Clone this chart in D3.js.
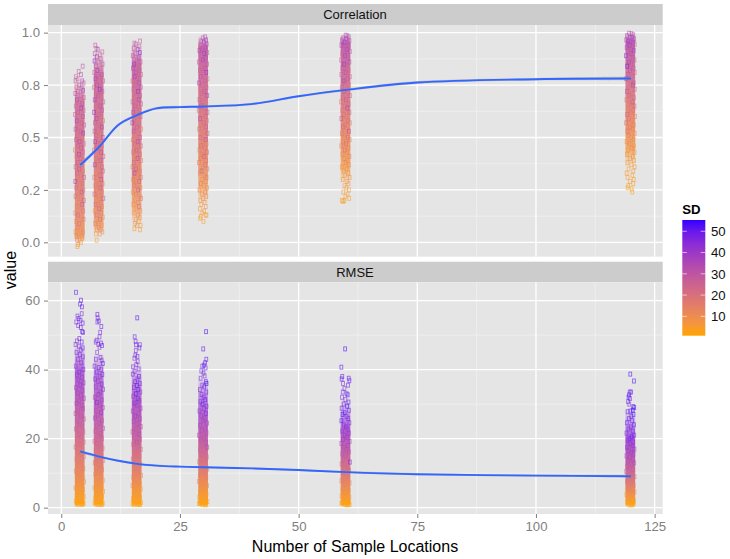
<!DOCTYPE html>
<html>
<head>
<meta charset="utf-8">
<script src="https://cdn.jsdelivr.net/npm/d3@7"></script>
<style>
body{margin:0;background:#fff;}
text{font-family:"Liberation Sans",Arial,sans-serif;}
</style>
</head>
<body>
<div id="chart"></div>
<script>
var sizes = [4,8,16,30,60,120];

// each point: [jitter off the sample size, value, SD]
var corr_4 = [[.5,.84,30],[-.33,.815,28],[.15,.8,33],[-.9,.79,26],[-1,.77,30],[-.6,.78,24],[.4,.77,36],[.7,.76,27],[-.2,.75,34],[-.85,.74,22],[.25,.735,29],[.6,.725,38],[-.5,.72,25],[-1.05,.71,31],[.05,.7,27],[.75,.69,24],[-.7,.68,35],[-.25,.67,21],[.45,.66,30],[-.95,.65,26],[.2,.64,40],[.7,.63,23],[-.45,.62,29],[-1.1,.61,25],[.55,.6,33],[-.1,.59,19],[-.75,.58,37],[.3,.57,24],[.8,.56,28],[-.35,.55,20],[-1,.54,31],[.1,.53,26],[.6,.52,42],[-.6,.51,22],[.4,.5,18],[-.9,.49,27],[-.15,.48,35],[.75,.47,21],[-.5,.46,25],[.2,.45,30],[-1.1,.44,17],[.55,.43,24],[-.3,.42,38],[-.8,.41,20],[.05,.4,26],[.7,.39,16],[-.55,.38,29],[.35,.37,19],[-1,.36,23],[-.2,.35,33],[.6,.34,15],[-.7,.33,25],[.15,.32,18],[.8,.31,27],[-.4,.3,16],[-1.05,.29,36],[.45,.28,21],[-.1,.27,14],[-.85,.26,24],[.65,.25,17],[.25,.24,31],[-.5,.23,13],[-1,.22,20],[.05,.21,16],[.75,.2,23],[-.3,.19,12],[.4,.18,28],[-.75,.17,15],[-.05,.16,11],[.6,.15,19],[-1.05,.14,14],[-.45,.13,24],[.2,.12,10],[.7,.11,16],[-.85,.1,12],[-.2,.09,20],[.45,.08,9],[-.6,.07,14],[.1,.06,8],[-1,.05,11],[.55,.05,16],[-.35,.04,7],[.25,.03,10],[-.8,.03,13],[.4,.02,6],[-.15,.01,9],[-.65,.01,12],[.15,.0,5],[-.45,-.01,7],[-.6,-.02,6]];
var corr_8 = [[-.84,.94,30],[-.6,.925,27],[-.3,.92,35],[.64,.908,26],[-.95,.9,32],[.1,.895,24],[-.5,.885,38],[.3,.875,29],[-1,.865,44],[-.15,.86,25],[.7,.85,33],[-.7,.84,28],[.25,.83,22],[-.4,.82,40],[-1.05,.81,26],[.55,.8,31],[-.05,.79,24],[-.8,.78,36],[.8,.77,27],[.3,.76,21],[-.45,.75,33],[-1.1,.74,25],[.1,.73,45],[.65,.72,28],[-.65,.71,23],[-.2,.7,30],[.45,.69,20],[-.95,.68,37],[.85,.67,26],[-.35,.66,22],[.2,.65,31],[-.75,.64,19],[.6,.63,28],[-1.1,.62,41],[-.1,.61,24],[.4,.6,21],[-.55,.59,34],[.8,.58,18],[-.9,.57,27],[0,.56,23],[.55,.55,36],[-.3,.54,20],[-1,.53,29],[.3,.52,17],[-.65,.51,25],[.75,.5,32],[-.15,.49,19],[-.85,.48,38],[.15,.47,24],[.6,.46,16],[-.45,.45,28],[-1.1,.44,21],[.4,.43,33],[-.05,.42,15],[.85,.41,26],[-.7,.4,19],[.25,.39,30],[-.35,.38,14],[-.95,.37,36],[.55,.36,22],[-.15,.35,17],[.75,.34,27],[-.6,.33,13],[.1,.32,24],[-1.05,.31,19],[.4,.3,31],[-.3,.29,12],[.7,.28,20],[-.8,.27,16],[.2,.26,26],[-.5,.25,11],[.55,.24,18],[-1,.23,22],[-.1,.22,13],[.85,.21,30],[-.4,.2,10],[.3,.19,16],[-.75,.18,21],[.6,.17,12],[0,.16,28],[-.95,.15,9],[.4,.14,15],[-.55,.13,19],[.75,.12,10],[.15,.11,24],[-.25,.1,8],[-.85,.09,13],[.5,.08,7],[-.1,.07,17],[-.5,.06,6],[.3,.06,11],[.65,.05,8],[-.7,.04,5],[.1,.04,9],[-.54,.01,4]];
var corr_16 = [[.6,.96,29],[-.6,.95,27],[-.3,.945,33],[.45,.935,26],[-.75,.925,31],[.1,.92,38],[.55,.905,44],[-.4,.9,25],[-.95,.89,30],[.3,.88,36],[-.1,.87,24],[.7,.86,28],[-.65,.85,41],[.2,.84,22],[-.9,.83,33],[.5,.82,26],[-.25,.81,30],[.8,.8,23],[-.55,.79,37],[.05,.78,27],[-1,.77,21],[.4,.76,32],[-.35,.75,25],[.75,.74,29],[-.8,.73,20],[.15,.72,43],[-.15,.71,24],[.6,.7,27],[-.65,.69,19],[.3,.68,34],[-1,.67,23],[.8,.66,26],[-.4,.65,30],[.05,.64,18],[.5,.63,25],[-.85,.62,35],[-.2,.61,21],[.7,.6,28],[.2,.59,17],[-.6,.58,24],[-1.05,.57,40],[.4,.56,20],[-.05,.55,27],[.8,.54,16],[-.75,.53,31],[.25,.52,22],[-.35,.51,18],[.6,.5,26],[-.95,.49,15],[.1,.48,36],[-.5,.47,20],[.75,.46,24],[.35,.45,14],[-.15,.44,28],[-.85,.43,18],[.55,.42,22],[-.4,.41,13],[.05,.4,33],[.8,.39,17],[-.7,.38,24],[.3,.37,12],[-1,.36,19],[-.25,.35,27],[.6,.34,14],[-.55,.33,37],[.15,.32,11],[.75,.31,21],[-.85,.3,16],[.4,.29,25],[-.1,.28,10],[-.6,.27,18],[.65,.26,13],[.2,.25,29],[-.95,.24,9],[-.3,.23,15],[.5,.22,11],[.8,.21,19],[-.5,.2,8],[.1,.19,13],[-.8,.18,9],[.35,.17,23],[-.15,.16,7],[.65,.15,10],[-.6,.14,6],[.2,.13,12],[.55,.12,7],[-.35,.11,9],[.3,.1,6],[-.45,.09,8],[.7,.08,5],[-.1,.08,7],[.6,.06,4],[-.6,.065,5]];
var corr_30 = [[.3,.98,33],[-.2,.975,30],[.5,.965,36],[-.5,.96,28],[.05,.955,38],[.65,.945,31],[-.7,.94,26],[.3,.93,35],[-.35,.925,29],[-.9,.915,33],[.75,.905,27],[.1,.9,40],[-.55,.89,24],[.45,.88,31],[-.15,.87,36],[-1,.86,26],[.7,.85,29],[-.4,.84,22],[.2,.83,33],[-.8,.82,27],[.55,.81,42],[-.05,.8,24],[-.6,.79,30],[.8,.78,21],[.3,.77,28],[-1,.76,34],[-.25,.75,23],[.6,.74,26],[-.7,.73,19],[.1,.72,31],[-.45,.71,24],[.75,.7,37],[.4,.69,20],[-.9,.68,27],[-.1,.67,22],[.55,.66,18],[-.6,.65,30],[.2,.64,25],[-1.05,.63,21],[.8,.62,28],[-.3,.61,17],[.35,.6,24],[-.75,.59,33],[.65,.58,19],[0,.57,23],[-.5,.56,16],[.5,.55,27],[-.95,.54,20],[.15,.53,18],[.8,.52,29],[-.35,.51,15],[-.7,.5,22],[.4,.49,36],[-.1,.48,17],[.6,.47,14],[-.55,.46,24],[.25,.45,19],[-.9,.44,13],[.7,.43,21],[-.25,.42,16],[.1,.41,26],[-.65,.4,12],[.5,.39,18],[-1,.38,14],[.3,.37,22],[-.15,.36,11],[.75,.35,16],[-.45,.34,30],[-.8,.33,10],[.2,.32,14],[.6,.31,18],[-.3,.3,9],[.4,.29,12],[-.6,.28,16],[0,.27,8],[.7,.26,11],[-.9,.25,9],[.3,.24,14],[-.4,.23,7],[.55,.22,10],[-.15,.21,8],[-.7,.2,6],[.2,.19,9],[-.5,.18,5],[.45,.17,7],[-.8,.16,5],[.1,.15,8],[-.3,.14,4],[.4,.13,6],[-.6,.125,4],[.6,.13,5],[-.75,.115,3],[-.05,.1,4]];
var corr_60 = [[-.1,.988,32],[.25,.985,29],[.55,.98,35],[-.6,.975,31],[.05,.97,38],[-.9,.965,28],[.7,.96,33],[-.3,.955,40],[.35,.95,27],[-1,.94,36],[.6,.935,30],[-.55,.925,26],[.15,.92,34],[.8,.91,29],[-.8,.9,24],[-.2,.89,37],[.45,.88,27],[-1.05,.87,22],[.7,.86,31],[-.4,.85,44],[.1,.84,25],[-.75,.83,28],[.55,.82,21],[-.1,.81,33],[-1,.8,26],[.8,.79,23],[.3,.78,30],[-.55,.77,40],[-.25,.76,24],[.65,.75,20],[-.9,.74,27],[.15,.73,22],[-.45,.72,32],[.45,.71,19],[.8,.7,26],[-.7,.69,23],[-.05,.68,29],[-1.05,.67,18],[.55,.66,24],[-.3,.65,21],[.25,.64,36],[-.8,.63,17],[.7,.62,25],[-.5,.61,20],[.05,.6,16],[-1,.59,28],[.4,.58,22],[.8,.57,15],[-.2,.56,19],[-.65,.55,24],[.2,.54,14],[.6,.53,33],[-.9,.52,18],[-.35,.51,13],[.35,.5,21],[.75,.49,16],[-.6,.48,12],[0,.47,24],[-1,.46,15],[.5,.45,11],[-.25,.44,19],[.15,.43,13],[-.75,.42,10],[.7,.41,16],[-.4,.4,12],[.3,.39,9],[-.1,.38,14],[.6,.37,10],[-.9,.36,8],[.1,.35,12],[-.5,.34,7],[.45,.33,9],[-.2,.32,6],[.75,.31,8],[-.7,.3,6],[.2,.29,5],[.5,.28,7],[-.35,.27,5],[.05,.26,4],[.6,.25,6],[-.6,.24,4],[.3,.23,5],[-.15,.22,3],[.65,.21,4],[-.9,.2,3],[-.6,.195,4],[-.35,.2,3]];
var corr_120 = [[-.4,.997,31],[.1,.995,34],[.5,.99,29],[-.8,.985,36],[.25,.98,38],[-.15,.975,33],[.7,.97,35],[-1,.965,30],[-.55,.96,40],[.4,.955,32],[.8,.945,28],[-.25,.94,37],[-.9,.93,34],[.15,.925,30],[.6,.915,36],[-.6,.91,27],[-.05,.9,33],[-1.05,.89,42],[.35,.88,29],[.75,.87,25],[-.4,.86,35],[.05,.85,28],[-.8,.84,48],[.55,.83,26],[-.2,.82,31],[.8,.81,23],[-.65,.8,29],[.25,.79,25],[-1,.78,33],[-.1,.77,22],[.6,.76,27],[.4,.75,36],[-.5,.74,21],[.8,.73,25],[-.85,.72,30],[.1,.71,19],[-.3,.7,26],[.65,.69,22],[-.95,.68,18],[.3,.67,28],[-.15,.66,20],[.75,.65,24],[-.6,.64,17],[.5,.63,21],[0,.62,16],[-.8,.61,25],[.85,.6,15],[-.4,.59,19],[.2,.58,14],[-1,.57,22],[.6,.56,13],[-.2,.55,17],[.35,.54,12],[-.7,.53,20],[.8,.52,11],[-.5,.51,15],[.05,.5,10],[.55,.49,13],[-.9,.48,9],[-.3,.47,12],[.7,.46,8],[.2,.45,11],[-.6,.44,7],[.75,.43,10],[-.85,.42,8],[.4,.41,6],[-.15,.4,7],[.65,.39,5],[-.75,.38,6],[.1,.37,5],[.8,.36,6],[-.5,.35,4],[.5,.34,5],[-.9,.33,4],[.3,.32,3],[-.7,.31,4],[.6,.3,3],[-.2,.29,3],[.5,.28,3],[-.55,.27,3],[-.7,.26,2],[.15,.255,3],[.3,.24,2]];

var rmse_4 = [[-.9,62.4,51],[.15,60.1,53],[-.05,59,50],[.35,58.2,52],[.3,56.2,48],[-.6,55.5,49],[-.35,54.8,50],[.05,54.3,52],[-.85,53.8,47],[.5,53.5,50],[-.45,52.8,48],[.1,52.2,51],[.4,51,53],[.6,50.8,49],[-.2,49,50],[-.7,48.3,47],[.3,48,52],[-1,47.3,45],[-.3,46.8,46],[.5,46.3,50],[.1,45.7,47],[-.8,45,44],[-.1,44.3,49],[.55,43.7,46],[-.5,43,43],[.2,42,45],[-.95,41,41],[.65,40,44],[-.2,39.3,46],[-.7,38.5,41],[.35,37.8,42],[-.4,37,40],[.7,36.2,39],[0,35.5,42],[-.9,34.8,36],[.45,34,38],[-.55,33.2,37],[.15,32.5,35],[.75,31.7,37],[-.25,31,33],[-.8,30.2,34],[.3,29.5,33],[.6,28.7,31],[-.45,28,30],[-1,27.3,29],[.1,26.5,31],[.75,25.7,28],[-.65,25,27],[-.1,24.2,29],[.4,23.5,26],[-.9,22.8,25],[.65,22,24],[-.3,21.3,26],[.2,20.5,23],[-.7,19.8,22],[.7,19,21],[-.05,18.3,23],[-1,17.6,20],[.45,16.9,19],[-.45,16.2,18],[.15,15.5,20],[.75,14.8,17],[-.8,14.1,16],[-.2,13.4,17],[.35,12.7,15],[-.55,12,14],[.65,11.3,14],[-.95,10.6,13],[.05,10,12],[-.35,9.3,11],[.5,8.7,11],[-.7,8.1,10],[.8,7.5,9],[.15,6.9,8],[-.5,6.3,8],[-1,5.7,7],[.55,5.2,7],[-.15,4.7,6],[.3,4.2,5],[-.75,3.7,5],[.75,3.2,4],[-.3,2.8,4],[.1,2.4,3],[-.95,2,3],[.5,1.7,3],[-.55,1.4,2],[.25,1.1,2],[-.1,1.6,2],[-.8,1.1,2],[.7,1.2,2],[.4,.9,1.5],[-.35,.9,1.5]];
var rmse_8 = [[-.4,56,50],[-.35,55,48],[-.1,54.1,52],[-.4,53.8,46],[.43,52.5,50],[.2,50.8,49],[.05,49.5,47],[-.55,48.5,50],[-.75,48,45],[.35,47.7,52],[-.2,47.3,48],[.6,47,50],[.05,46.5,46],[-.45,45,44],[.25,43.5,49],[-.7,43,46],[.5,42.7,42],[.75,41.8,52],[-1,41,47],[-.1,40.6,44],[.4,40,42],[-.55,39.3,49],[.65,38.6,46],[.1,38,41],[-.85,37.3,44],[-.3,36.6,40],[.5,35.8,47],[-.7,35,38],[.8,34.3,43],[.2,33.5,37],[-.15,32.8,40],[-.95,32,36],[.55,31.2,38],[-.5,30.5,44],[.1,29.7,34],[.75,29,36],[-.7,28.2,33],[.35,27.5,40],[-.25,26.7,31],[-.9,26,35],[.6,25.2,30],[.05,24.5,32],[-.5,23.7,28],[.8,23,30],[-.8,22.2,27],[.3,21.5,29],[-.2,20.7,25],[.55,20,26],[-1,19.3,24],[-.45,18.6,23],[.15,17.9,24],[.7,17.2,21],[-.75,16.5,20],[-.05,15.8,21],[.45,15.1,18],[-.35,14.4,18],[.85,13.7,17],[-.95,13,16],[.25,12.3,15],[-.6,11.6,14],[.6,11,14],[-.1,10.3,12],[-.85,9.7,12],[.4,9.1,11],[-.35,8.5,10],[.75,7.9,9],[.1,7.3,9],[-.7,6.7,8],[.5,6.2,7],[-1,5.7,7],[-.2,5.2,6],[.8,4.7,6],[.25,4.2,5],[-.5,3.7,5],[.6,3.2,4],[-.85,2.8,4],[.05,2.4,3],[.4,2,3],[-.4,1.7,3],[-1,1.4,2],[.75,1.3,2],[-.65,1,2],[.2,1,2],[.55,.9,1.5],[-.15,.9,1.5]];
var rmse_16 = [[0,55,53],[-.55,49.5,50],[-.35,48.2,48],[-.25,47.2,52],[.55,47.2,49],[.45,46.3,51],[-.3,45.5,47],[-.4,44.2,48],[-.6,43.3,46],[.05,43.8,50],[.1,42.3,49],[-.2,41.5,47],[-.9,40.8,45],[.3,40.2,46],[-.55,39.5,43],[-.95,38.7,48],[.35,38,50],[.05,37.3,44],[-.45,36.5,47],[.55,36,45],[-.1,35.4,52],[-.7,34.8,42],[.2,34.2,50],[.65,33.5,41],[-.3,33,53],[-.85,32.3,40],[.1,31.6,48],[.45,31,39],[-.55,30.3,44],[-.15,29.6,37],[.7,28.8,38],[-.95,28,36],[.25,27.3,35],[-.4,26.5,40],[.55,25.8,34],[-.75,25,33],[0,24.3,32],[.75,23.5,31],[-.3,22.8,30],[-1,22,29],[.35,21.3,35],[-.6,20.5,27],[.6,19.8,26],[-.05,19,33],[-.85,18.3,24],[.2,17.6,23],[.75,16.9,22],[-.45,16.2,21],[-.1,15.5,20],[.45,14.8,19],[-.95,14.1,18],[-.25,13.4,17],[.65,12.7,16],[.1,12,15],[-.65,11.3,14],[.4,10.6,13],[-.4,10,12],[.8,9.4,12],[-.85,8.8,11],[.2,8.2,10],[-.15,7.6,9],[.55,7,8],[-1,6.4,8],[-.5,5.9,7],[.75,5.4,7],[.05,4.9,6],[-.7,4.4,5],[.35,3.9,5],[-.25,3.4,4],[.6,3,4],[-.9,2.6,3],[.15,2.2,3],[-.45,1.8,3],[.8,1.5,2],[-1,1.2,2],[-.1,1.3,2],[.4,1,2],[-.7,.9,1.5],[.6,.9,1.5],[.1,.9,1.5]];
var rmse_30 = [[.5,51,54],[-.1,46,52],[.55,43,51],[.3,42,53],[.05,41.3,50],[-.3,41,48],[.4,40.5,52],[-.5,39.6,49],[-.05,39,51],[.2,38.2,47],[-.65,37.5,46],[.45,36.5,52],[.6,36,54],[-.3,35.5,47],[.1,35,50],[-.8,34.2,44],[.55,33.5,48],[-.45,32.8,45],[0,32,46],[.3,31.3,50],[-.7,30.7,43],[-.25,30,52],[.6,29.4,47],[.05,28.7,41],[-.9,28,40],[.45,27.3,46],[-.5,26.6,39],[.2,25.9,38],[-.15,25.2,37],[.7,24.5,36],[-.75,23.8,35],[.3,23.1,34],[-.35,22.4,33],[.6,21.7,32],[-1,21,31],[.05,20.3,30],[-.55,19.6,29],[.5,18.9,32],[-.2,18.2,27],[.75,17.5,36],[-.8,16.8,25],[.2,16.1,24],[-.4,15.4,23],[.65,14.7,22],[0,14,21],[-.95,13.3,19],[.4,12.6,18],[-.6,11.9,17],[.75,11.2,16],[-.1,10.6,15],[.25,10,14],[-.8,9.4,13],[.55,8.8,12],[-.3,8.2,11],[-1,7.6,10],[.1,7,9],[.7,6.4,8],[-.5,5.9,8],[.35,5.4,7],[-.15,4.9,6],[-.75,4.4,6],[.6,3.9,5],[.05,3.4,4],[-.95,3,4],[.4,2.6,3],[-.45,2.2,3],[.8,1.8,3],[-.2,1.5,2],[.2,1.2,2],[-.7,1.2,2],[.55,1,2],[-1,1.2,2],[-.3,.9,1.5],[.35,.8,1.5]];
var rmse_60 = [[-.2,46,54],[-1,40.7,52],[-.8,38,50],[-.95,37.3,53],[.55,37.5,52],[.7,36.8,50],[-.65,36,48],[.4,35.5,51],[-.35,34.5,49],[-.7,33.5,47],[.1,33,53],[.35,32.7,51],[-.85,32,48],[-.15,31.3,46],[.5,30.6,50],[-.5,30,47],[.2,29.4,54],[-.95,28.8,45],[.6,28.2,46],[-.3,27.5,53],[-.75,27,52],[.1,26.4,44],[.45,25.8,47],[-1,25.2,52],[.7,24.6,43],[-.45,24,42],[-.05,23.4,46],[.3,22.8,41],[-.85,22.2,40],[.6,21.6,39],[-.25,21,38],[.15,20.4,37],[-.65,19.8,38],[.75,19.2,36],[-1,18.6,35],[.35,18,34],[-.4,17.4,33],[.05,16.8,32],[.6,16.2,31],[-.8,15.6,30],[-.15,15,29],[.45,14.4,27],[-.55,13.8,26],[.8,13.2,45],[-.95,12.6,24],[.2,12,23],[-.3,11.4,22],[.65,10.8,21],[-.7,10.2,20],[.05,9.6,18],[.4,9,17],[-.5,8.4,15],[-1,7.8,14],[.75,7.2,13],[-.15,6.6,12],[.25,6,11],[-.75,5.4,10],[.55,4.9,9],[-.35,4.4,8],[.1,3.9,7],[-.95,3.4,6],[.7,3,5],[-.55,2.6,5],[.3,2.2,4],[-.1,1.9,3],[.6,1.6,3],[-.8,1.5,3],[.1,1.3,2],[-.4,1.1,2],[.5,1,2],[-1,1.3,2],[.75,.9,1.5],[.2,.8,1.5],[-.2,.9,1.5]];
var rmse_120 = [[-.13,38.7,54],[.65,36.7,53],[-.25,33.5,52],[.05,33.5,51],[-.4,32.7,50],[-.5,32,53],[-.2,31.6,51],[-.6,30.7,49],[-.35,30,47],[.5,29.3,52],[.7,29,54],[.4,28.3,55],[-.1,28,53],[-.7,27.8,50],[.55,27,51],[.1,26.5,52],[-.45,25.8,49],[.25,25.2,47],[-.85,24.6,46],[.65,24,50],[-.05,23.4,48],[-.5,22.8,44],[.4,22.2,46],[-.95,21.6,43],[.7,21,44],[.15,20.5,52],[-.3,20,47],[-.7,19.5,42],[.5,19,41],[-.1,18.5,43],[.3,18,40],[-.85,17.5,39],[.75,17,40],[-.45,16.5,38],[.05,16,37],[.55,15.5,36],[-.95,15,35],[-.2,14.5,34],[.35,14,33],[-.6,13.5,32],[.7,13,31],[.1,12.5,30],[-.8,12,29],[-.3,11.5,28],[.5,11,27],[-1,10.5,26],[.25,10,25],[-.15,9.5,23],[.75,9,22],[-.55,8.5,21],[.4,8,20],[-.85,7.5,18],[.05,7,17],[.6,6.5,15],[-.35,6,14],[-.7,5.5,13],[.3,5,12],[.75,4.6,11],[-.1,4.2,10],[-.95,3.8,8],[.5,3.4,7],[-.5,3,6],[.15,2.6,5],[-.25,2.3,5],[.65,2,4],[-.75,1.7,3],[.35,1.5,3],[-.05,1.3,3],[-.6,1.1,2],[.55,1.1,2],[.1,.9,2],[-.35,.8,1.5],[.3,.8,1.5]];

var corr_cols = [corr_4,corr_8,corr_16,corr_30,corr_60,corr_120];
var rmse_cols = [rmse_4,rmse_8,rmse_16,rmse_30,rmse_60,rmse_120];

// where the points overplot solid: [value, SD seen there, how solid]
var corr_core_4 = [[.0,8,0],[.03,10,.75],[.15,15,.8],[.3,18,.85],[.5,23,.85],[.68,26,.8],[.78,28,0]];
var corr_core_8 = [[.04,8,0],[.08,10,.7],[.2,14,.85],[.4,20,.85],[.6,24,.85],[.8,27,.85],[.91,29,0]];
var corr_core_16 = [[.08,7,0],[.16,9,.6],[.3,14,.85],[.5,20,.85],[.7,25,.85],[.85,29,.85],[.95,31,0]];
var corr_core_30 = [[.18,6,0],[.26,8,.6],[.4,13,.85],[.6,20,.85],[.8,26,.85],[.93,31,.85],[.985,33,0]];
var corr_core_60 = [[.28,5,0],[.36,6,.7],[.5,12,.85],[.65,19,.85],[.8,25,.85],[.95,32,.85],[.99,34,0]];
var corr_core_120 = [[.36,5,0],[.44,6,.7],[.55,11,.85],[.7,19,.85],[.85,27,.85],[.96,33,.85],[1,35,0]];
var rmse_core_4 = [[.4,2,0],[1,2,.95],[10,12,.95],[20,23,.9],[30,33,.85],[40,42,.7],[48,47,0]];
var rmse_core_8 = [[.4,2,0],[1,2,.95],[10,13,.95],[20,26,.9],[30,36,.8],[38,43,.6],[45,47,0]];
var rmse_core_16 = [[.4,2,0],[1,2,.95],[10,15,.95],[20,28,.9],[30,38,.8],[36,44,.5],[42,48,0]];
var rmse_core_30 = [[.4,2,0],[1,2,.95],[10,16,.95],[20,31,.9],[28,41,.7],[33,46,.4],[38,50,0]];
var rmse_core_60 = [[.4,2,0],[1,2,.95],[8,15,.95],[15,28,.9],[22,40,.8],[27,47,.4],[32,51,0]];
var rmse_core_120 = [[.4,2,0],[1,2,.95],[7,17,.95],[13,31,.9],[20,44,.75],[24,49,.4],[29,53,0]];
var corr_cores = [corr_core_4,corr_core_8,corr_core_16,corr_core_30,corr_core_60,corr_core_120];
var rmse_cores = [rmse_core_4,rmse_core_8,rmse_core_16,rmse_core_30,rmse_core_60,rmse_core_120];

// smoother: x, fit, half band
var fit_x = [4,8,12,16,20,25,30,40,50,60,75,100,120];
var corr_fit = [.369,.456,.56,.607,.639,.645,.648,.659,.697,.727,.762,.778,.781];
var rmse_fit = [16.3,14.8,13.6,12.7,12.2,11.9,11.7,11.4,10.9,10.3,9.7,9.3,9.1];
var corr_band = [.012,.008,.007,.006,.006,.006,.005,.005,.005,.006,.007,.006,.01];
var rmse_band = [.5,.35,.3,.3,.3,.25,.25,.25,.25,.3,.3,.3,.45];

var x_ticks = [0,25,50,75,100,125];
var x_minor = [12.5,37.5,62.5,87.5,112.5];
var corr_ticks = [0,.25,.5,.75,1];
var corr_labels = ["0.0","0.2","0.5","0.8","1.0"];
var corr_minor = [.125,.375,.625,.875];
var rmse_ticks = [0,20,40,60];
var rmse_minor = [10,30,50];
var legend_ticks = [10,20,30,40,50];
var sd_range = [.9,55.3];

var svg = d3.select("#chart").append("svg").attr("width",730).attr("height",559);
svg.append("rect").attr("width",730).attr("height",559).attr("fill","#ffffff");
var defs = svg.append("defs");

var x = d3.scaleLinear().domain([-2.8,126.7]).range([48,662.7]);
var color = d3.scaleLinear().domain(sd_range).range(["#FFA500","#3300FF"]).interpolate(d3.interpolateLab);

var panel = function(title,stripTop,y,yticks,ylabels,yminor,cols,cores,fit,band){
    var top = y.range()[1], bottom = y.range()[0];
    svg.append("rect").attr("x",48).attr("y",stripTop).attr("width",614.7).attr("height",top-stripTop).attr("fill","#CCCCCC");
    svg.append("text").attr("x",355).attr("y",stripTop+15).attr("text-anchor","middle").attr("font-size",13).attr("fill","#111").text(title);
    svg.append("rect").attr("x",48).attr("y",top).attr("width",614.7).attr("height",bottom-top).attr("fill","#E5E5E5");

    // grid
    svg.selectAll(null).data(yminor).enter().append("line")
        .attr("x1",48).attr("x2",662.7).attr("y1",function(d){return y(d);}).attr("y2",function(d){return y(d);})
        .attr("stroke","#F2F2F2").attr("stroke-width",0.7);
    svg.selectAll(null).data(x_minor).enter().append("line")
        .attr("y1",top).attr("y2",bottom).attr("x1",function(d){return x(d);}).attr("x2",function(d){return x(d);})
        .attr("stroke","#F2F2F2").attr("stroke-width",0.7);
    svg.selectAll(null).data(yticks).enter().append("line")
        .attr("x1",48).attr("x2",662.7).attr("y1",function(d){return y(d);}).attr("y2",function(d){return y(d);})
        .attr("stroke","#FFFFFF").attr("stroke-width",1.3);
    svg.selectAll(null).data(x_ticks).enter().append("line")
        .attr("y1",top).attr("y2",bottom).attr("x1",function(d){return x(d);}).attr("x2",function(d){return x(d);})
        .attr("stroke","#FFFFFF").attr("stroke-width",1.3);

    // solid part of each column, then the jittered points over it
    cols.forEach(function(col,i){
        var core = cores[i];
        var lo = core[0][0], hi = core[core.length-1][0];
        var id = title+"core"+i;
        var g = defs.append("linearGradient").attr("id",id).attr("gradientUnits","userSpaceOnUse")
            .attr("x1",0).attr("x2",0).attr("y1",y(lo)).attr("y2",y(hi));
        core.forEach(function(c){
            g.append("stop").attr("offset",(c[0]-lo)/(hi-lo)).attr("stop-color",color(c[1])).attr("stop-opacity",c[2]);
        });
        svg.append("rect").attr("x",x(sizes[i]-1.15)).attr("width",x(sizes[i]+.9)-x(sizes[i]-1.15))
            .attr("y",y(hi)).attr("height",y(lo)-y(hi)).attr("fill","url(#"+id+")");
        svg.selectAll(null).data(col).enter().append("rect")
            .attr("x",function(d){return x(sizes[i]+d[0])-1.4;})
            .attr("y",function(d){return y(d[1])-2;})
            .attr("width",2.8).attr("height",4)
            .attr("fill","none")
            .attr("stroke",function(d){return color(d[2]);})
            .attr("stroke-width",0.9)
            .attr("stroke-opacity",0.6);
    });

    // smoother
    var area = d3.area().curve(d3.curveCatmullRom)
        .x(function(d,i){return x(fit_x[i]);})
        .y0(function(d,i){return y(d-band[i]);})
        .y1(function(d,i){return y(d+band[i]);});
    svg.append("path").attr("d",area(fit)).attr("fill","#999999").attr("fill-opacity",0.4);
    var line = d3.line().curve(d3.curveCatmullRom)
        .x(function(d,i){return x(fit_x[i]);})
        .y(function(d){return y(d);});
    svg.append("path").attr("d",line(fit)).attr("fill","none").attr("stroke","#3366FF").attr("stroke-width",1.9);

    // y axis
    var ax = svg.append("g").attr("transform","translate(48,0)")
        .call(d3.axisLeft(y).tickValues(yticks).tickSize(4).tickPadding(4).tickFormat(function(d,i){return ylabels[i];}));
    ax.select(".domain").remove();
    ax.selectAll("line").attr("stroke","#7F7F7F");
    ax.selectAll("text").attr("fill","#7F7F7F").attr("font-size",13.2).attr("font-family","Liberation Sans");
};

var y1 = d3.scaleLinear().domain([-.0685,1.0365]).range([256.7,25]);
var y2 = d3.scaleLinear().domain([-1.83,65.3]).range([514,282.3]);
panel("Correlation",4,y1,corr_ticks,corr_labels,corr_minor,corr_cols,corr_cores,corr_fit,corr_band);
panel("RMSE",261.7,y2,rmse_ticks,rmse_ticks,rmse_minor,rmse_cols,rmse_cores,rmse_fit,rmse_band);

// x axis
var xa = svg.append("g").attr("transform","translate(0,514)")
    .call(d3.axisBottom(x).tickValues(x_ticks).tickSize(4).tickPadding(4));
xa.select(".domain").remove();
xa.selectAll("line").attr("stroke","#7F7F7F");
xa.selectAll("text").attr("fill","#7F7F7F").attr("font-size",13.2).attr("font-family","Liberation Sans");

svg.append("text").attr("x",355).attr("y",552).attr("text-anchor","middle").attr("font-size",16).attr("fill","#000").text("Number of Sample Locations");
svg.append("text").attr("transform","translate(16,270) rotate(-90)").attr("text-anchor","middle").attr("font-size",16).attr("fill","#000").text("value");

// legend
var ly = d3.scaleLinear().domain(sd_range).range([335.7,220]);
var grad = defs.append("linearGradient").attr("id","sdgrad").attr("x1",0).attr("x2",0).attr("y1",1).attr("y2",0);
d3.range(0,1.001,.1).forEach(function(t){
    grad.append("stop").attr("offset",t).attr("stop-color",color(sd_range[0]+t*(sd_range[1]-sd_range[0])));
});
svg.append("rect").attr("x",682.3).attr("y",220).attr("width",23).attr("height",115.7).attr("fill","url(#sdgrad)");
svg.append("text").attr("x",682.3).attr("y",213.5).attr("font-size",13.2).attr("font-weight","bold").text("SD");
legend_ticks.forEach(function(d){
    svg.append("line").attr("x1",682.3).attr("x2",686.9).attr("y1",ly(d)).attr("y2",ly(d)).attr("stroke","#fff").attr("stroke-opacity",.6);
    svg.append("line").attr("x1",700.7).attr("x2",705.3).attr("y1",ly(d)).attr("y2",ly(d)).attr("stroke","#fff").attr("stroke-opacity",.6);
    svg.append("text").attr("x",711).attr("y",ly(d)+4.7).attr("font-size",13.2).attr("fill","#111").text(d);
});
</script>
</body>
</html>
